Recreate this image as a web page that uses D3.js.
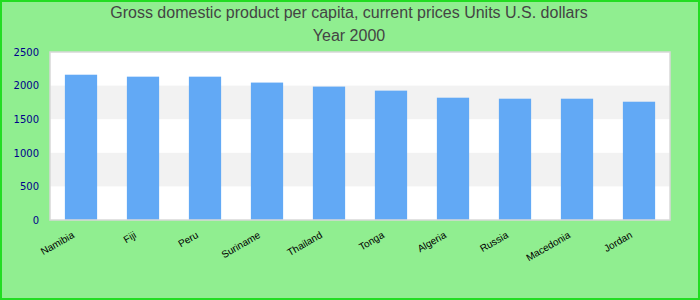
<!DOCTYPE html>
<html>
<head>
<meta charset="utf-8">
<script src="https://cdn.jsdelivr.net/npm/d3@7"></script>
<style>
  body { margin: 0; }
  svg { display: block; font-family: "Liberation Sans", Arial, sans-serif; }
</style>
</head>
<body>
<div id="grafico"></div>
<script>
// dados
const paises = ["Namibia", "Fiji", "Peru", "Suriname", "Thailand", "Tonga", "Algeria", "Russia", "Macedonia", "Jordan"];
const valores = [2162, 2133, 2133, 2045, 1985, 1925, 1820, 1805, 1805, 1760];
const ticksY = [0, 500, 1000, 1500, 2000, 2500];
const titulo = ["Gross domestic product per capita, current prices Units U.S. dollars", "Year 2000"];

const largura = 700, altura = 300;
const margem = {top: 52, right: 30, bottom: 80, left: 50};

const svg = d3.select("#grafico").append("svg")
    .attr("width", largura)
    .attr("height", altura);

svg.append("rect")
    .attr("x", 1).attr("y", 1)
    .attr("width", largura - 2).attr("height", altura - 2)
    .attr("fill", "#90ee90")
    .attr("stroke", "#22dd22")
    .attr("stroke-width", 2);

svg.selectAll(".titulo")
    .data(titulo)
    .enter().append("text")
        .attr("class", "titulo")
        .attr("x", 349)
        .attr("y", (d, i) => 18 + i * 23)
        .attr("text-anchor", "middle")
        .attr("font-size", 16)
        .attr("fill", "#444")
        .text(d => d);

const x = d3.scaleBand()
    .domain(paises)
    .range([margem.left, largura - margem.right])
    .paddingInner(0.48)
    .paddingOuter(0.24);

const y = d3.scaleLinear()
    .domain([0, 2500])
    .range([altura - margem.bottom, margem.top]);

// fundo do plot
svg.append("rect")
    .attr("x", margem.left).attr("y", margem.top)
    .attr("width", largura - margem.left - margem.right)
    .attr("height", y(0) - y(2500))
    .attr("fill", "#fff");

// faixas alternadas
const faixas = d3.pairs(ticksY).filter((p, i) => i % 2 == 1);
svg.selectAll(".faixa")
    .data(faixas)
    .enter().append("rect")
        .attr("class", "faixa")
        .attr("x", margem.left)
        .attr("y", d => y(d[1]))
        .attr("width", largura - margem.left - margem.right)
        .attr("height", d => y(d[0]) - y(d[1]))
        .attr("fill", "#f2f2f2");

svg.selectAll(".barra")
    .data(paises)
    .enter().append("rect")
        .attr("class", "barra")
        .attr("x", d => x(d))
        .attr("y", (d, i) => y(valores[i]))
        .attr("width", x.bandwidth())
        .attr("height", (d, i) => y(0) - y(valores[i]))
        .attr("fill", "#62a9f5");

svg.append("rect")
    .attr("x", margem.left).attr("y", margem.top)
    .attr("width", largura - margem.left - margem.right)
    .attr("height", y(0) - y(2500))
    .attr("fill", "none")
    .attr("stroke", "#d8d8d8")
    .attr("stroke-width", 1.5);

const eixoY = svg.append("g")
    .attr("transform", `translate(${margem.left},0)`)
    .call(d3.axisLeft(y).tickValues(ticksY).tickFormat(d3.format("d")).tickSize(0).tickPadding(11));
eixoY.select(".domain").remove();
eixoY.selectAll("text")
    .attr("font-size", 10)
    .attr("font-family", "DejaVu Sans, sans-serif")
    .attr("fill", "#00008b");

const eixoX = svg.append("g")
    .attr("transform", `translate(0,${y(0)})`)
    .call(d3.axisBottom(x).tickSize(0).tickPadding(0));
eixoX.select(".domain").remove();
eixoX.selectAll("text")
    .attr("font-size", 10)
    .attr("fill", "#000")
    .attr("text-anchor", "end")
    .attr("dy", 0)
    .attr("transform", "translate(-6,17) rotate(-30)");
</script>
</body>
</html>
